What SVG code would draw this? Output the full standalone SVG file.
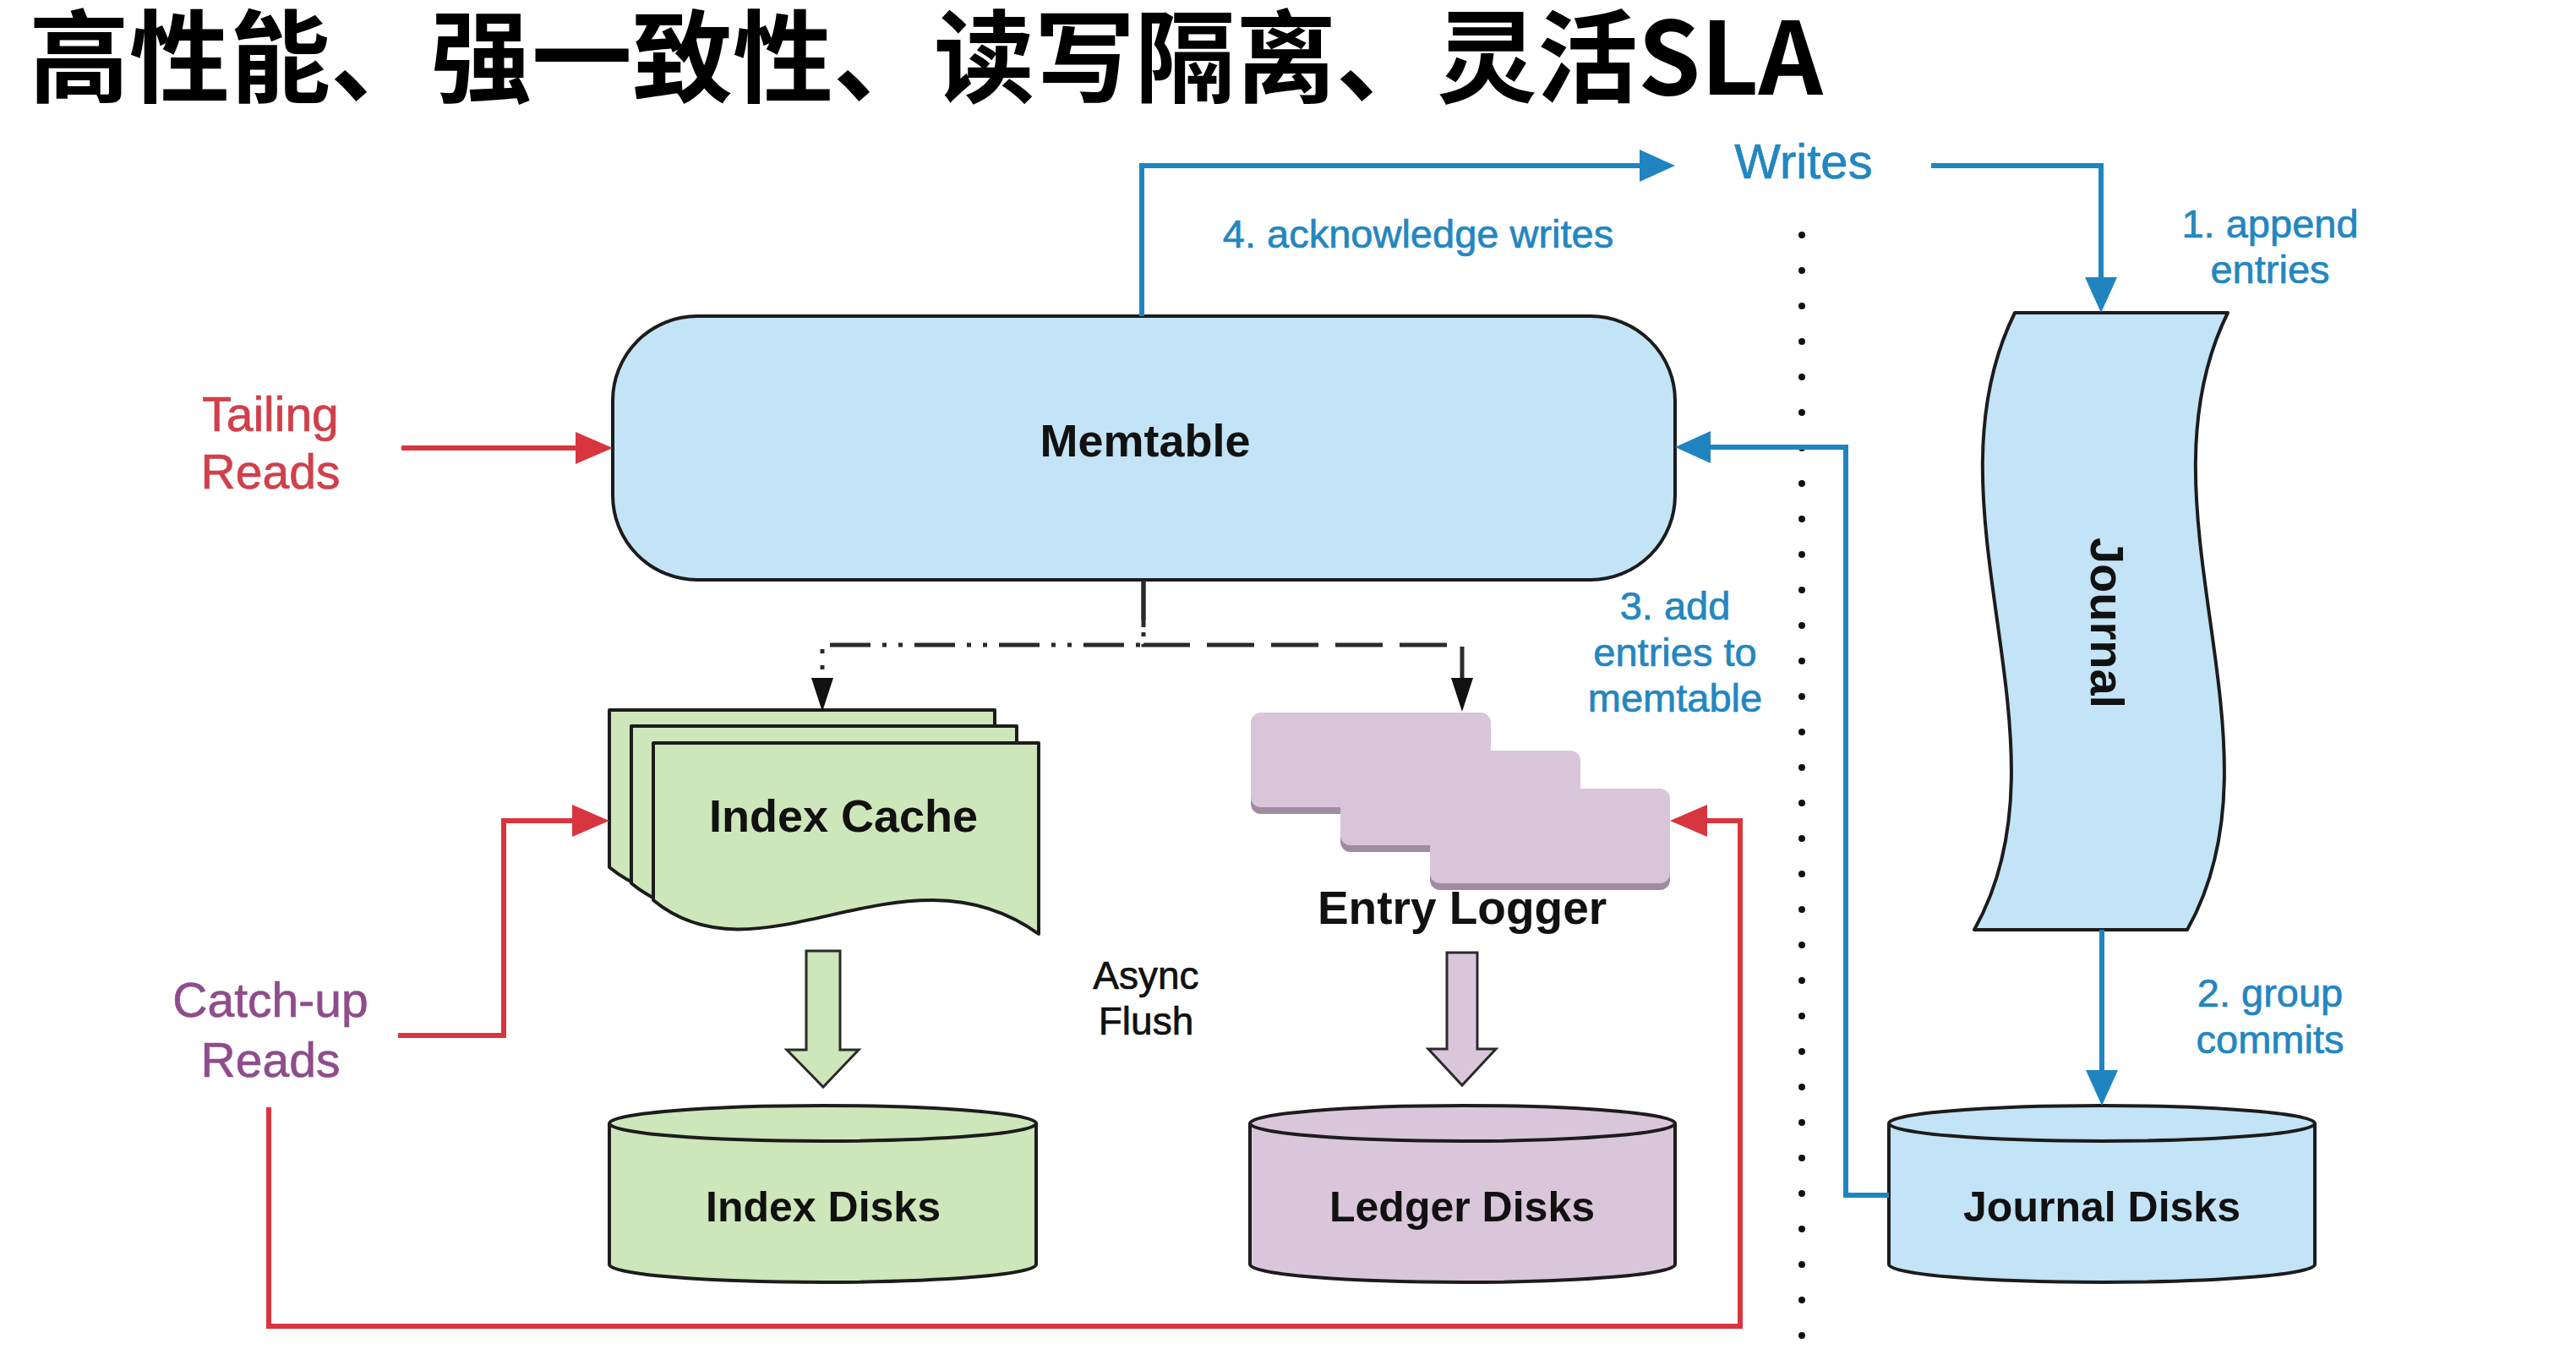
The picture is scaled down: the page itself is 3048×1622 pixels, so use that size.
<svg xmlns="http://www.w3.org/2000/svg" width="3048" height="1622" viewBox="0 0 3048 1622">
<style>
  .t { font-family: "Liberation Sans", Arial, sans-serif; text-anchor: middle; }
  .b { font-weight: bold; fill: #111; }
  .blue { fill: #2386c0; stroke: #2386c0; stroke-width: 0.7; font-size: 47px; }
  .red { fill: #d0404a; stroke: #d0404a; stroke-width: 0.7; font-size: 57px; }
  .purple { fill: #8f4c8c; stroke: #8f4c8c; stroke-width: 0.7; font-size: 57px; }
  .blk { fill: #111; stroke: #111; stroke-width: 0.7; font-size: 46px; }
  .shape { stroke: #1c1c1c; stroke-width: 4; stroke-linejoin: round; }
  .lb { fill: none; stroke: #1f84bf; stroke-width: 6; stroke-linejoin: miter; }
  .lr { fill: none; stroke: #d8363f; stroke-width: 6; stroke-linejoin: miter; }
  .lk { fill: none; stroke: #2a2a2a; stroke-width: 5; }
</style>
<defs>
  <marker id="ab" markerUnits="userSpaceOnUse" markerWidth="44" markerHeight="38" refX="22" refY="19" orient="auto">
    <path d="M0,0 L42,19 L0,38 Z" fill="#1f84bf"/>
  </marker>
  <marker id="ar" markerUnits="userSpaceOnUse" markerWidth="46" markerHeight="38" refX="24" refY="19" orient="auto">
    <path d="M0,0 L44,19 L0,38 Z" fill="#d8363f"/>
  </marker>
  <marker id="ak" markerUnits="userSpaceOnUse" markerWidth="42" markerHeight="26" refX="20" refY="13" orient="auto">
    <path d="M0,0 L40,13 L0,26 Z" fill="#111"/>
  </marker>
</defs>
<rect width="3048" height="1622" fill="#ffffff"/>

<text x="34" y="112" style="font-family: 'Noto Sans CJK SC', 'Liberation Sans', sans-serif; font-weight: bold; font-size: 119px; fill: #000;">高性能、强一致性、读写隔离、灵活SLA</text>

<line x1="2132" y1="278" x2="2132" y2="1581" stroke="#111" stroke-width="8" stroke-dasharray="0 42" stroke-linecap="round"/>

<g id="memtable">
  <rect x="725" y="374" width="1257" height="312" rx="100" ry="100" fill="#c3e3f6" class="shape"/>
  <text x="1355" y="540" class="t b" style="font-size:54px">Memtable</text>
</g>

<g id="journal">
  <path d="M2384,370 H2636 C2522,600 2712,880 2588,1100 H2336 C2460,880 2270,600 2384,370 Z" fill="#c3e3f6" class="shape"/>
  <text transform="translate(2494,737) rotate(90)" x="0" y="20" class="t b" style="font-size:56px">Journal</text>
</g>

<g id="index-cache">
  <path transform="translate(-52,-39)" d="M773,879 H1229 V1105 C1070,990 900,1170 773,1065 Z" fill="#cde6ba" class="shape"/>
  <path transform="translate(-26,-20)" d="M773,879 H1229 V1105 C1070,990 900,1170 773,1065 Z" fill="#cde6ba" class="shape"/>
  <path d="M773,879 H1229 V1105 C1070,990 900,1170 773,1065 Z" fill="#cde6ba" class="shape"/>
  <text x="998" y="984" class="t b" style="font-size:54px">Index Cache</text>
</g>

<g id="entry-logger">
  <rect x="1480" y="851" width="284" height="112" rx="12" fill="#a08ca0"/>
  <rect x="1480" y="843" width="284" height="112" rx="12" fill="#d9c5da"/>
  <rect x="1586" y="896" width="284" height="112" rx="12" fill="#a08ca0"/>
  <rect x="1586" y="888" width="284" height="112" rx="12" fill="#d9c5da"/>
  <rect x="1692" y="941" width="284" height="112" rx="12" fill="#a08ca0"/>
  <rect x="1692" y="933" width="284" height="112" rx="12" fill="#d9c5da"/>
  <text x="1730" y="1093" class="t b" style="font-size:55px">Entry Logger</text>
</g>

<g id="index-disks">
  <path d="M721,1329 A252.5,21 0 0 1 1226,1329 V1496 A252.5,21 0 0 1 721,1496 Z" fill="#cde6ba" class="shape"/>
  <path d="M721,1329 A252.5,21 0 0 0 1226,1329" fill="none" class="shape"/>
  <text x="974" y="1445" class="t b" style="font-size:50px">Index Disks</text>
</g>

<g id="ledger-disks">
  <path d="M1479,1329 A251.5,21 0 0 1 1982,1329 V1496 A251.5,21 0 0 1 1479,1496 Z" fill="#d9c6da" class="shape"/>
  <path d="M1479,1329 A251.5,21 0 0 0 1982,1329" fill="none" class="shape"/>
  <text x="1730" y="1445" class="t b" style="font-size:50px">Ledger Disks</text>
</g>

<g id="journal-disks">
  <path d="M2235,1329 A252,21 0 0 1 2739,1329 V1496 A252,21 0 0 1 2235,1496 Z" fill="#c3e3f6" class="shape"/>
  <path d="M2235,1329 A252,21 0 0 0 2739,1329" fill="none" class="shape"/>
  <text x="2487" y="1445" class="t b" style="font-size:50px">Journal Disks</text>
</g>

<g id="connectors">
  <path d="M475,530 H705" class="lr" marker-end="url(#ar)"/>
  <path d="M471,1225 H596 V971 H701" class="lr" marker-end="url(#ar)"/>
  <path d="M318,1310 V1569 H2059 V971 H1996" class="lr" marker-end="url(#ar)"/>
  <path d="M1351,374 V196 H1962" class="lb" marker-end="url(#ab)"/>
  <path d="M2285,196 H2486 V350" class="lb" marker-end="url(#ab)"/>
  <path d="M2487,1100 V1288" class="lb" marker-end="url(#ab)"/>
  <path d="M2235,1414 H2184 V529 H2002" class="lb" marker-end="url(#ab)"/>
  <path d="M1353,686 V763 H973 V822" class="lk" stroke-dasharray="48 14 5 14 5 14" marker-end="url(#ak)"/>
  <path d="M1353,686 V763 H1730 V822" class="lk" stroke-dasharray="56 20" marker-end="url(#ak)"/>
  <polygon points="954,1125 994,1125 994,1242 1016,1242 974,1286 931,1242 954,1242" fill="#cde6ba" stroke="#2a2a2a" stroke-width="3"/>
  <polygon points="1712,1127 1748,1127 1748,1241 1770,1241 1730,1284 1690,1241 1712,1241" fill="#d9c6da" stroke="#2a2a2a" stroke-width="3"/>
</g>

<g id="labels">
  <text x="320" y="510" class="t red">Tailing</text>
  <text x="320" y="578" class="t red">Reads</text>
  <text x="320" y="1203" class="t purple">Catch-up</text>
  <text x="320" y="1274" class="t purple">Reads</text>
  <text x="2134" y="211" class="t" style="fill:#2386c0;stroke:#2386c0;stroke-width:0.7;font-size:58px">Writes</text>
  <text x="1678" y="293" class="t blue">4. acknowledge writes</text>
  <text x="2686" y="281" class="t blue">1. append</text>
  <text x="2686" y="335" class="t blue">entries</text>
  <text x="1982" y="733" class="t blue">3. add</text>
  <text x="1982" y="788" class="t blue">entries to</text>
  <text x="1982" y="842" class="t blue">memtable</text>
  <text x="2686" y="1191" class="t blue">2. group</text>
  <text x="2686" y="1246" class="t blue">commits</text>
  <text x="1356" y="1170" class="t blk">Async</text>
  <text x="1356" y="1224" class="t blk">Flush</text>
</g>
</svg>
